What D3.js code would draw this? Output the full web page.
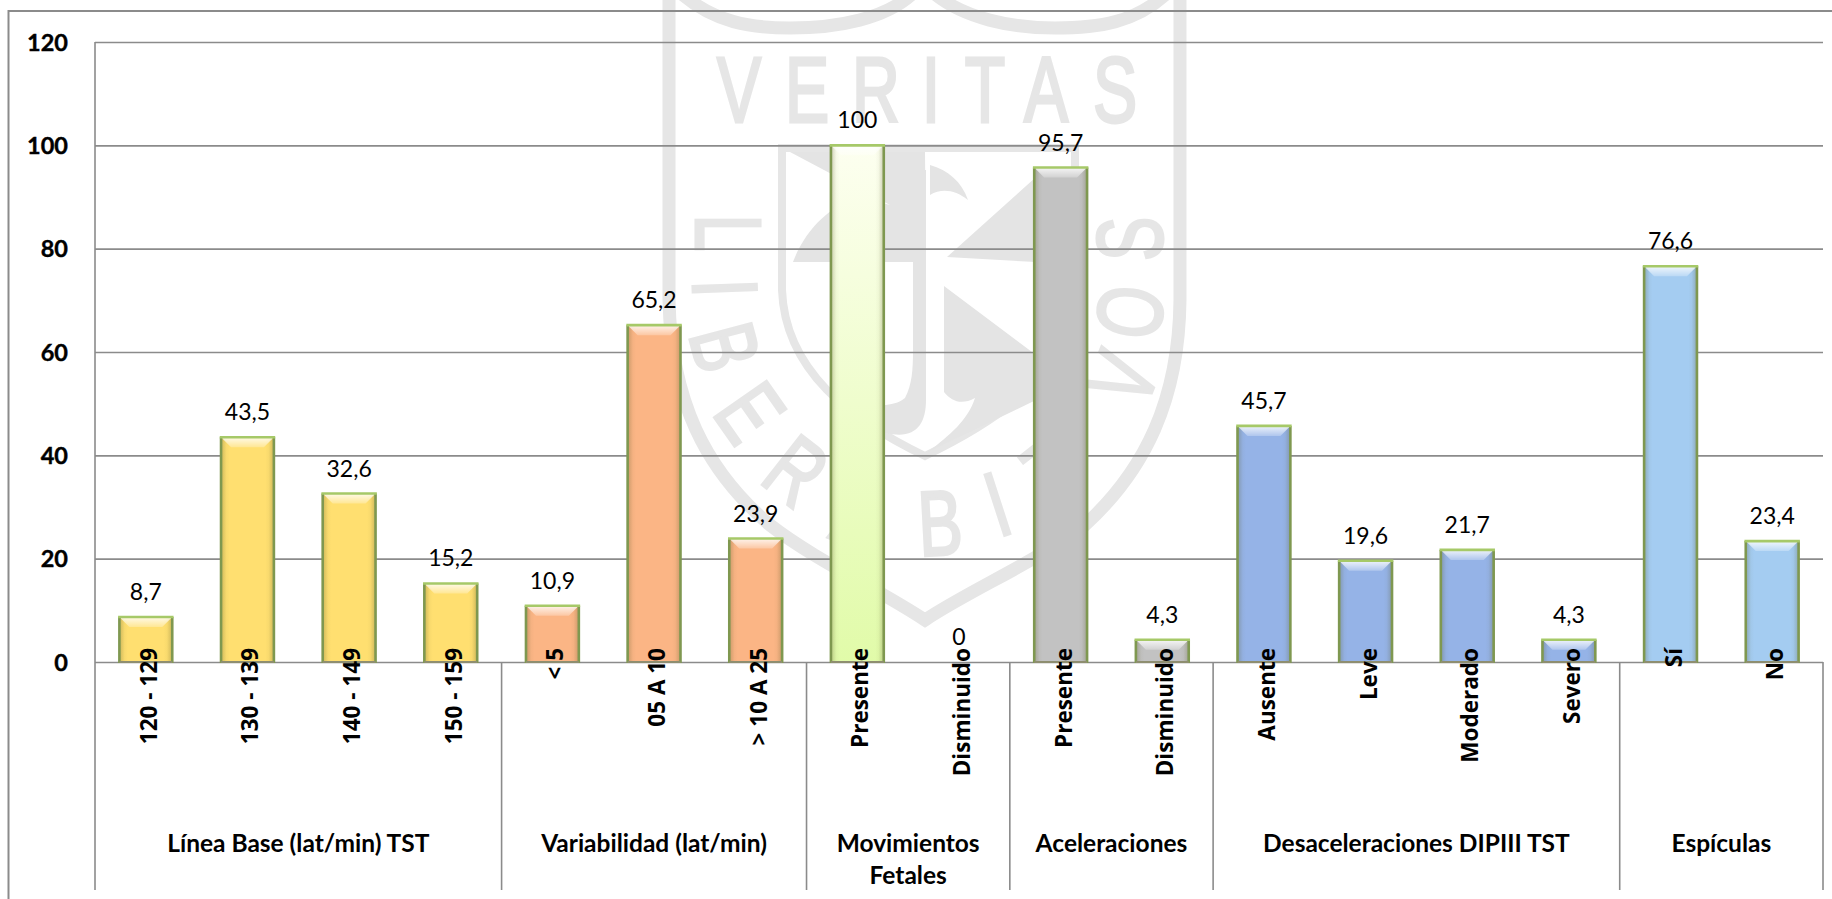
<!DOCTYPE html>
<html lang="es">
<head>
<meta charset="utf-8">
<title>Monitoreo fetal TST</title>
<script src="https://cdn.jsdelivr.net/npm/d3@7"></script>
<style>
  html, body { margin: 0; padding: 0; background: #fff; overflow: hidden; }
  svg { display: block; }
  text { font-family: Lato, "Open Sans", sans-serif; fill: #000; }
  .crest { fill: none; stroke: #e6e6e6; }
  .crest-fill { fill: #e4e4e4; stroke: none; }
  .crest-text { font-family: "Liberation Sans", sans-serif; font-weight: 400; fill: #e6e6e6; stroke: #e6e6e6; stroke-width: 3; font-size: 92px; text-anchor: middle; }
</style>
</head>
<body>
<div id="chart"></div>
<script>
// Categories of each cardiotocography parameter, with their percentages
const categories = [
  "120 - 129", "130 - 139", "140 - 149", "150 - 159",
  "< 5", "05 A 10", "> 10 A 25",
  "Presente", "Disminuido",
  "Presente", "Disminuido",
  "Ausente", "Leve", "Moderado", "Severo",
  "Sí", "No"
];
const values = [8.7, 43.5, 32.6, 15.2, 10.9, 65.2, 23.9, 100, 0, 95.7, 4.3, 45.7, 19.6, 21.7, 4.3, 76.6, 23.4];
const groupNames = [
  ["Línea Base (lat/min) TST"],
  ["Variabilidad (lat/min)"],
  ["Movimientos", "Fetales"],
  ["Aceleraciones"],
  ["Desaceleraciones DIPIII TST"],
  ["Espículas"]
];
const groupSizes = [4, 3, 2, 2, 4, 2];
const groupColors = ["#ffdf70", "#fbb585", "url(#greenFill)", "#c2c2c2", "#95b3e7", "#a4ccf1"];
const yTicks = [0, 20, 40, 60, 80, 100, 120];

const W = 1832, H = 899;
const plot = { left: 95, right: 1823, top: 42, base: 662, bottom: 890 };
const gridColor = "#8b8b8b";

const svg = d3.select("#chart").append("svg").attr("width", W).attr("height", H);
const defs = svg.append("defs");

// Vertical wash of the "Movimientos Fetales" bar
const green = defs.append("linearGradient").attr("id", "greenFill")
  .attr("x1", 0).attr("y1", 0).attr("x2", 0).attr("y2", 1);
green.append("stop").attr("offset", 0).attr("stop-color", "#fdfff0");
green.append("stop").attr("offset", 1).attr("stop-color", "#e1fba9");

// Darkened side edges of the bevel
const edge = defs.append("linearGradient").attr("id", "edgeShade");
[[0, .3], [.1, .04], [.16, 0], [.84, 0], [.9, .04], [1, .3]].forEach(([o, a]) =>
  edge.append("stop").attr("offset", o).attr("stop-color", "#5a5a2a").attr("stop-opacity", a));

// Light top facet of the bevel
const facet = defs.append("linearGradient").attr("id", "topFacet")
  .attr("x1", 0).attr("y1", 0).attr("x2", 0).attr("y2", 1);
facet.append("stop").attr("offset", 0).attr("stop-color", "#fff").attr("stop-opacity", .85);
facet.append("stop").attr("offset", 1).attr("stop-color", "#fff").attr("stop-opacity", .25);

// University crest printed behind the chart
const crest = svg.append("g").attr("class", "watermark");
function band(d, w) { crest.append("path").attr("class", "crest").attr("d", d).attr("stroke-width", w); }
function patch(d) { crest.append("path").attr("class", "crest-fill").attr("d", d); }

band("M669,-5 V300 C671,400 705,470 770,525 C815,560 880,590 925,620 C970,590 1040,560 1085,525 C1145,470 1179,400 1180,300 V-5", 13);
band("M683,-5 C715,22 750,28 790,28 C840,28 885,18 911,-5", 13);
band("M936,-5 C965,18 1010,28 1055,28 C1100,28 1135,22 1165,-5", 13);
band("M782,148 H1075 V290 C1075,370 1000,420 925,456 C850,420 785,370 782,290 Z", 8);

// Quartered field and anchor
patch("M790,152 H925 L926,262 H793 C805,230 830,205 860,197 L890,205 Z");
patch("M947,257 L1036,177 V262 Z");
patch("M944,286 L1036,355 V400 L928,452 C950,435 968,420 975,398 C962,405 952,402 944,392 Z");
patch("M913,170 H926 V400 C926,425 915,440 886,433 C868,425 860,410 852,395 C865,405 890,410 905,398 C912,385 913,370 913,350 Z");
patch("M930,165 C948,170 962,182 968,200 C955,190 942,188 930,195 Z");

// Motto set around the crest, one condensed letter at a time
const mottoLetters = [
  { c: "V", x: 739, y: 89, r: 0 }, { c: "E", x: 807, y: 89, r: 0 }, { c: "R", x: 876, y: 89, r: 0 },
  { c: "I", x: 931, y: 89, r: 0 }, { c: "T", x: 985, y: 89, r: 0 }, { c: "A", x: 1046, y: 89, r: 0 },
  { c: "S", x: 1115, y: 89, r: 0 },
  { c: "L", x: 729, y: 233, r: 90 }, { c: "I", x: 726, y: 288, r: 88 }, { c: "B", x: 726, y: 347, r: 75 },
  { c: "E", x: 751, y: 412, r: 55 }, { c: "R", x: 797, y: 470, r: 38 }, { c: "A", x: 860, y: 515, r: 22 },
  { c: "B", x: 940, y: 522, r: -3 }, { c: "I", x: 997, y: 503, r: -18 }, { c: "T", x: 1052, y: 470, r: -38 },
  { c: "V", x: 1122, y: 378, r: -68 }, { c: "O", x: 1129, y: 312, r: -82 }, { c: "S", x: 1129, y: 239, r: -90 }
];
crest.selectAll("text.motto").data(mottoLetters).join("text")
  .attr("class", "crest-text motto")
  .attr("transform", d => `translate(${d.x},${d.y}) rotate(${d.r}) scale(0.72,1)`)
  .attr("dy", 33)
  .text(d => d.c);

// Scales
const y = d3.scaleLinear().domain([0, 120]).range([plot.base, plot.top]);
const x = d3.scaleBand().domain(d3.range(categories.length))
  .range([plot.left, plot.right]).paddingInner(0.48).paddingOuter(0.24);
const slot = x.step();
const slotStart = i => plot.left + i * slot;

// Outer frame of the chart area
const frame = svg.append("g").attr("fill", "none").attr("stroke", gridColor).attr("stroke-width", 2);
frame.append("path").attr("d", `M8.5,${H} V11 H${W}`);

// Value axis with its gridlines
const yAxis = svg.append("g").attr("transform", `translate(${plot.left},0)`)
  .call(d3.axisLeft(y).tickValues(yTicks).tickSize(-(plot.right - plot.left)).tickPadding(27));
yAxis.select(".domain").remove();
yAxis.selectAll("line").attr("stroke", gridColor).attr("stroke-width", 1.6);
yAxis.selectAll("text")
  .attr("font-size", 23.5).attr("font-weight", 700).attr("fill", "#000")
  .attr("stroke", "#000").attr("stroke-width", 0.4)
  .style("font-family", "Lato, sans-serif").attr("dy", "0.35em");

// Category frame below the zero line
const cuts = [0];
groupSizes.forEach(n => cuts.push(cuts[cuts.length - 1] + n));
svg.append("g").selectAll("line").data(cuts).join("line")
  .attr("x1", d => slotStart(d)).attr("x2", d => slotStart(d))
  .attr("y1", d => d === 0 ? plot.top : plot.base).attr("y2", plot.bottom)
  .attr("stroke", gridColor).attr("stroke-width", 1.6);

// Bars: group colour for each category
const colorOf = i => groupColors[d3.bisectRight(cuts, i) - 1];
const marks = values.map((v, i) => ({ v, i })).filter(d => d.v > 0);
const bars = svg.append("g");
const facetH = 10;

bars.selectAll("rect.body").data(marks).join("rect").attr("class", "body")
  .attr("x", d => x(d.i)).attr("y", d => y(d.v))
  .attr("width", x.bandwidth()).attr("height", d => y(0) - y(d.v))
  .attr("fill", d => colorOf(d.i));
bars.selectAll("rect.edge").data(marks).join("rect").attr("class", "edge")
  .attr("x", d => x(d.i)).attr("y", d => y(d.v))
  .attr("width", x.bandwidth()).attr("height", d => y(0) - y(d.v))
  .attr("fill", "url(#edgeShade)");
bars.selectAll("path.facet").data(marks).join("path").attr("class", "facet")
  .attr("d", d => {
    const l = x(d.i), r = l + x.bandwidth(), t = y(d.v);
    return `M${l},${t} H${r} L${r - facetH},${t + facetH} H${l + facetH} Z`;
  })
  .attr("fill", "url(#topFacet)");
bars.selectAll("path.rim").data(marks).join("path").attr("class", "rim")
  .attr("d", d => {
    const l = x(d.i), r = l + x.bandwidth();
    return `M${l},${y(0) + 1} V${y(d.v)} M${r},${y(d.v)} V${y(0) + 1}`;
  })
  .attr("fill", "none").attr("stroke", "#7f9850").attr("stroke-width", 2.6);
bars.selectAll("line.lip").data(marks).join("line").attr("class", "lip")
  .attr("x1", d => x(d.i) - 1.3).attr("x2", d => x(d.i) + x.bandwidth() + 1.3)
  .attr("y1", d => y(d.v)).attr("y2", d => y(d.v))
  .attr("stroke", "#a6c968").attr("stroke-width", 2.6);
bars.selectAll("line.foot").data(marks).join("line").attr("class", "foot")
  .attr("x1", d => x(d.i)).attr("x2", d => x(d.i) + x.bandwidth())
  .attr("y1", y(0)).attr("y2", y(0))
  .attr("stroke", "#8e8e70").attr("stroke-width", 2);

// Value labels
const decimal = d3.formatLocale({ decimal: ",", thousands: ".", grouping: [3], currency: ["", ""] }).format("~r");
svg.append("g").selectAll("text").data(values).join("text")
  .attr("x", (d, i) => x(i) + x.bandwidth() / 2)
  .attr("y", d => y(d) - 17)
  .attr("text-anchor", "middle").attr("font-size", 23)
  .text(d => decimal(d));

// Rotated category labels, read through the x scale
const xAxis = svg.append("g").attr("transform", `translate(0,${plot.base})`)
  .call(d3.axisBottom(x).tickSize(0).tickFormat(i => categories[i]));
xAxis.select(".domain").remove();
xAxis.selectAll("text")
  .attr("transform", "translate(11,-14) rotate(-90)")
  .attr("x", 0).attr("y", 0).attr("dy", 0)
  .attr("text-anchor", "end").attr("font-size", 22.5).attr("font-weight", 700).attr("fill", "#000")
  .style("font-family", "'Open Sans', sans-serif");

// Parameter names centred under their category blocks
const groupLabels = svg.append("g").attr("font-weight", 700).attr("font-size", 24.5).attr("text-anchor", "middle");
groupNames.forEach((lines, g) => {
  const cx = (slotStart(cuts[g]) + slotStart(cuts[g + 1])) / 2;
  lines.forEach((line, k) => {
    groupLabels.append("text").attr("x", cx).attr("y", 851.5 + k * 32).text(line);
  });
});
</script>
</body>
</html>
